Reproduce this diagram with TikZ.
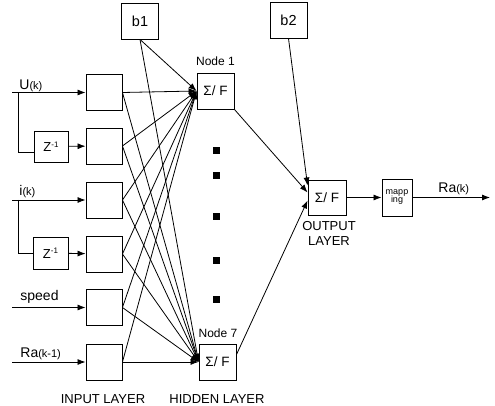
\documentclass[tikz,border=0pt]{standalone}
\usepackage{fontspec}
\setmainfont{Liberation Sans}
\usetikzlibrary{arrows.meta,calc}
\newcommand{\fsz}[1]{\fontsize{#1}{#1}\selectfont}
\newcommand{\sigF}{\fsz{13.5}Σ/ F}
\newcommand{\zinv}{\fsz{13}Z\raisebox{4.5pt}{\fsz{8}-1}}
\begin{document}
\begin{tikzpicture}[x=1pt,y=-1pt,line width=0.8pt,
  box/.style={draw,line width=0.9pt,inner sep=0pt,minimum width=36pt,minimum height=36pt},
  tip/.style={-{Latex[length=8pt,width=6pt]}},
  lbl/.style={inner sep=0pt,anchor=base west,font=\fsz{14}},
  laycap/.style={inner sep=0pt,anchor=base,font=\fsz{13}},
  nlab/.style={inner sep=0pt,anchor=base,font=\fsz{12}}
]
\useasboundingbox (0,0) rectangle (495,406);
% bias boxes
\node[box,minimum width=37pt] (b1) at (140,21) {\fsz{14.5}b1};
\node[box,minimum width=37pt] (b2) at (288.5,20) {\fsz{14.5}b2};
% hidden nodes
\node[box,minimum width=37pt] (n1) at (215.5,91) {\sigF};
\node[box,minimum width=37pt] (n7) at (217.5,362) {\sigF};
\node[nlab] (l1) at (215.5,66) {Node 1};
\node[nlab] (l7) at (218,337) {Node 7};
% input boxes
\node[box] (in1) at (104,92.5) {};
\node[box] (in2) at (104,146) {};
\node[box] (in3) at (104,200) {};
\node[box] (in4) at (104,254) {};
\node[box] (in5) at (104,307.5) {};
\node[box] (in6) at (104,362) {};
% delay boxes
\node[box,minimum width=34pt,minimum height=31pt] (z1) at (51,146.5) {\zinv};
\node[box,minimum width=35pt,minimum height=32pt] (z2) at (50.5,253) {\zinv};
% output
\node[box,minimum width=38pt,minimum height=35pt] (out) at (327,197.5) {\sigF};
\node[box,minimum width=30pt,minimum height=37pt,align=center,font=\fsz{9}] (map) at (397,197.5) {mapp\\[-1pt]ing};
% free ends
\coordinate (su) at (12,92.5);
\coordinate (ju) at (18,92.5);
\coordinate (si) at (12,200);
\coordinate (ji) at (18,200);
\coordinate (ss) at (12,307.5);
\coordinate (sr) at (12,362);
\coordinate (ro) at (490,197.5);
% input labels
\node[lbl] (tu) at (19,90) {U\fsz{11}(k)};
\node[lbl] (ti) at (19,196) {i\fsz{11}(k)};
\node[lbl] (ts) at (20,300) {speed};
\node[lbl] (tr) at (20,357) {Ra\fsz{11}(k-1)};
\node[lbl] (tk) at (438,193) {Ra\fsz{11}(k)};
% input connectors
\draw[tip] (su) -- (in1);
\draw (ju) |- ([yshift=-5.5pt]z1.west);
\draw[tip] (z1) -- (in2);
\draw[tip] (si) -- (in3);
\draw (ji) |- (z2.west);
\draw[tip] (z2) -- (in4);
\draw[tip] (ss) -- (in5);
\draw[tip] (sr) -- (in6);
% input -> hidden
\foreach \i in {1,...,6} {
  \draw[tip] (in\i.east) -- (n1.west);
  \draw[tip] (in\i.east) -- (n7.west);
}
\draw[tip] (b1.south) -- (n1.west);
\draw[tip] (b1.south) -- (n7.west);
% dots
\foreach \y in {150.5,175.5,216.5,260,299.5}
  \fill (213,\y-3.5) rectangle +(7,7);
% hidden -> output
\draw[tip] (b2.south) -- ([yshift=12pt]out.west);
\draw[tip] (n1.south east) -- ([yshift=5pt]out.west);
\draw[tip] ($(n7.north east)!0.3!(n7.south east)$) -- ([yshift=-3pt]out.west);
\draw[tip] (out) -- (map);
\draw[tip] (map) -- (ro);
% layer captions
\node[laycap] (ci) at (103,403) {INPUT LAYER};
\node[laycap] (ch) at (217,403) {HIDDEN LAYER};
\node[laycap] (co1) at (329,230) {OUTPUT};
\node[laycap] (co2) at (329,245) {LAYER};
\end{tikzpicture}
\end{document}
